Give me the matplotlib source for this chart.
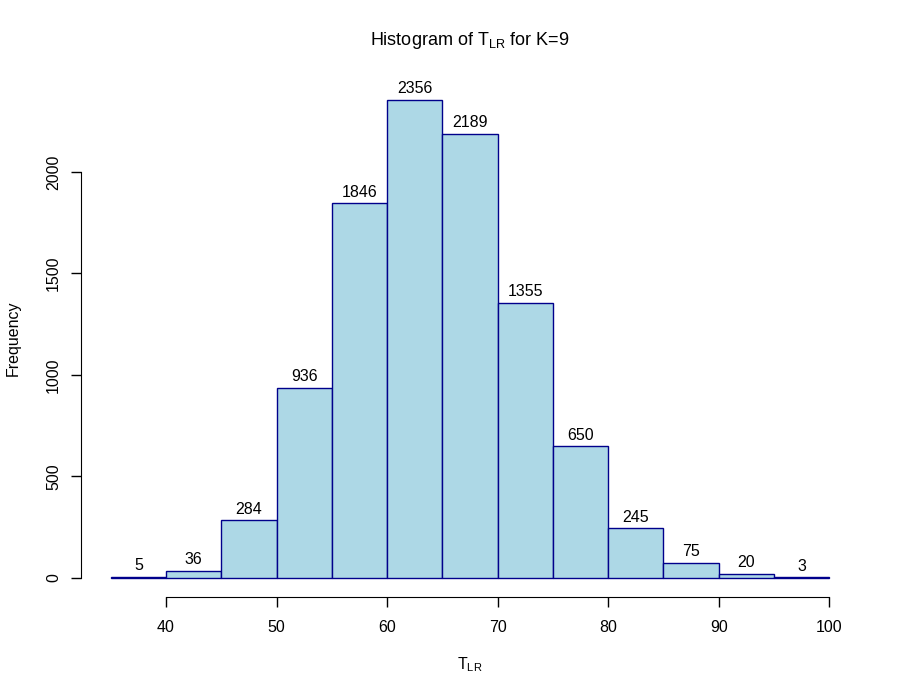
import numpy as np
import matplotlib.pyplot as plt

plt.rcParams['font.family'] = ['Liberation Sans', 'DejaVu Sans']

bin_edges = [35, 40, 45, 50, 55, 60, 65, 70, 75, 80, 85, 90, 95, 100]
counts = [5, 36, 284, 936, 1846, 2356, 2189, 1355, 650, 245, 75, 20, 3]
x_ticks = [40, 50, 60, 70, 80, 90, 100]
y_ticks = [0, 500, 1000, 1500, 2000]


def main():
    fig = plt.figure(figsize=(9, 7), dpi=100)
    ax = fig.add_axes([82 / 900, 103 / 700, 776 / 900, 517 / 700])

    lefts = np.array(bin_edges[:-1])
    widths = np.diff(bin_edges)
    ax.bar(lefts, counts, width=widths, align='edge',
           color='#ADD8E6', edgecolor='#00008B', linewidth=1)

    # count labels on top of each bar
    for x, w, c in zip(lefts, widths, counts):
        ax.annotate(str(c), (x + w / 2, c), xytext=(0, 2.5),
                    textcoords='offset points', ha='center', va='bottom',
                    fontsize=11.5)

    ax.set_xlim(32.4, 102.6)
    ax.set_ylim(-94, 2453)

    for s in ['top', 'right']:
        ax.spines[s].set_visible(False)
    ax.spines['left'].set_bounds(0, 2000)
    ax.spines['bottom'].set_bounds(40, 100)
    ax.spines['left'].set_position(('outward', 1))

    ax.set_xticks(x_ticks)
    ax.set_yticks(y_ticks)
    ax.set_yticklabels([str(v) for v in y_ticks], rotation=90, va='center')
    ax.tick_params(axis='both', labelsize=11.5, length=7, width=1)
    ax.tick_params(axis='x', pad=9.5)
    ax.tick_params(axis='y', pad=7)

    ax.set_xlabel(r'$\mathregular{T_{LR}}$', fontsize=11.5, labelpad=15)
    ax.set_ylabel('Frequency', fontsize=11.5, labelpad=18)
    # title centred over the plot region, like R's main=
    ax.text(0.5, (597 - 45) / 517, r'Histogram of $\mathregular{T_{LR}}$ for K=9',
            transform=ax.transAxes, fontsize=13, ha='center', va='baseline')

    fig.savefig('out.png')


if __name__ == "__main__":
    main()
